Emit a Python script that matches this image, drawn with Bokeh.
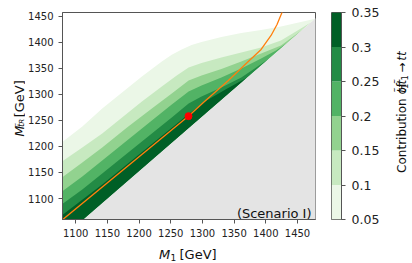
import math
from bokeh.plotting import figure
from bokeh.models import ColumnDataSource, Label, FixedTicker, CustomJSTickFormatter
from bokeh.layouts import row, column
from bokeh.core.properties import value
from bokeh.embed import file_html
from bokeh.resources import INLINE

# ---------------- data ----------------
levels = [0.05, 0.10, 0.15, 0.20, 0.25, 0.30, 0.35]
level_labels = ["0.05", "0.1", "0.15", "0.2", "0.25", "0.3", "0.35"]
band_colors = ["#ebf7e7", "#c7e9c0", "#92d28f", "#52b365", "#238b45", "#005f26"]

x_ticks = [1100, 1150, 1200, 1250, 1300, 1350, 1400, 1450]
y_ticks = [1100, 1150, 1200, 1250, 1300, 1350, 1400, 1450]
x_lo, x_hi = 1079.2, 1478.4
y_lo, y_hi = 1059.7, 1457.0

# contour lines (upper edge of each filled level), M1 vs M_tR in GeV
c005_x = [1076, 1110.5, 1141.9, 1173.2, 1204.5, 1235.9, 1251.6, 1267.3, 1282.9, 1298.6, 1314.3, 1329.9, 1361.3, 1392.6, 1423.9, 1455.3, 1477.7]
c005_y = [1205.6, 1238.2, 1272.7, 1303.5, 1334.2, 1362.8, 1375.7, 1386.2, 1394.5, 1400.2, 1405.0, 1409.9, 1417.6, 1423.4, 1430.1, 1438.8, 1444.9]
c010_x = [1076, 1110.5, 1141.9, 1173.2, 1204.5, 1235.9, 1259.4, 1278.2, 1298.6, 1329.9, 1361.3, 1392.6, 1423.9, 1447.5, 1471.0]
c010_y = [1169.1, 1197.9, 1224.8, 1255.5, 1286.2, 1315.0, 1336.1, 1351.4, 1360.1, 1370.6, 1380.2, 1389.8, 1403.2, 1420.5, 1437.8]
c015_x = [1076, 1110.5, 1141.9, 1181.0, 1220.2, 1251.6, 1278.2, 1298.6, 1329.9, 1361.3, 1392.6, 1423.9, 1458.5]
c015_y = [1138.4, 1169.1, 1197.9, 1236.3, 1272.7, 1301.5, 1326.5, 1336.1, 1348.6, 1363.0, 1378.3, 1393.7, 1424.6]
c020_x = [1076, 1110.5, 1141.9, 1181.0, 1220.2, 1251.6, 1278.2, 1298.6, 1329.9, 1361.3, 1392.6, 1416.1, 1433.4]
c020_y = [1111.5, 1142.2, 1172.9, 1211.3, 1249.7, 1280.4, 1305.4, 1316.9, 1332.2, 1349.5, 1368.7, 1384.1, 1398.3]
c025_x = [1076, 1110.5, 1141.9, 1181.0, 1220.2, 1251.6, 1278.2, 1298.6, 1329.9, 1361.3, 1384.8, 1405.2]
c025_y = [1086.6, 1117.3, 1148.0, 1186.4, 1224.8, 1255.5, 1282.3, 1295.8, 1313.1, 1332.2, 1351.4, 1368.5]
c030_x = [1076, 1141.9, 1220.2, 1278.2, 1306.4, 1337.8, 1370.7]
c030_y = [1065.5, 1126.9, 1204.6, 1262.2, 1288.1, 1310.2, 1332.2]

# boundary of the excluded (grey) region
gray_x = [1103, 1480]
gray_y = [1050, 1447.3]

# orange curve and benchmark point
orange_x = [1070, 1278.2, 1303.3, 1340.9, 1370.7, 1392.6, 1408.3, 1417.7, 1421.6, 1425.5, 1426.5]
orange_y = [1050, 1258.4, 1286.2, 1326.5, 1361.0, 1386.0, 1412.9, 1434.0, 1445.5, 1457.0, 1465.0]
dot_x = [1278]
dot_y = [1258]

# ---------------- styling helpers ----------------
FONT = "DejaVu Sans"
EDGE = "#555555"
TXT = "#111111"
A = math.pi / 2


def text_fig(w, h):
    f = figure(width=w, height=h, x_range=(0, w), y_range=(0, h), output_backend="svg",
               toolbar_location=None, min_border=0, x_axis_location=None, y_axis_location=None)
    f.outline_line_color = None
    f.grid.visible = False
    return f


def txt(f, x, y, s, size, style="normal", angle=0.0):
    f.text(x=[x], y=[y], text=[s], angle=angle, text_align="left", text_baseline="alphabetic",
           text_font=value(FONT), text_font_size=value(f"{size}px"),
           text_font_style=value(style), text_color=TXT)


# ---------------- main plot ----------------
p = figure(width=298, height=243, x_range=(x_lo, x_hi), y_range=(y_lo, y_hi),
           output_backend="svg", toolbar_location=None,
           min_border_left=35, min_border_right=8, min_border_top=12, min_border_bottom=24)
p.grid.visible = False
p.outline_line_color = EDGE
p.outline_line_width = 1
p.xaxis.ticker = FixedTicker(ticks=x_ticks)
p.yaxis.ticker = FixedTicker(ticks=y_ticks)
for ax in (p.xaxis[0], p.yaxis[0]):
    ax.major_tick_in = 0
    ax.major_tick_out = 4
    ax.minor_tick_line_color = None
    ax.axis_line_color = EDGE
    ax.major_tick_line_color = EDGE
    ax.major_label_text_font = FONT
    ax.major_label_text_font_size = "10px"
    ax.major_label_text_color = "#222222"
p.yaxis.major_label_standoff = 5
p.xaxis.major_label_standoff = 5

contours = [(c005_x, c005_y), (c010_x, c010_y), (c015_x, c015_y),
            (c020_x, c020_y), (c025_x, c025_y), (c030_x, c030_y)]
xs, ys = [], []
for cx, cy in contours:
    xs.append(list(cx) + [gray_x[0], cx[0]])
    ys.append(list(cy) + [gray_y[0], gray_y[0]])
src = ColumnDataSource(dict(xs=xs, ys=ys, color=band_colors))
p.patches("xs", "ys", source=src, fill_color="color", line_color=None)

p.patch(gray_x + [gray_x[-1]], gray_y + [gray_y[0]], fill_color="#e4e4e4", line_color=None)

p.line(orange_x, orange_y, line_color="#ff7f0e", line_width=1.3)
p.scatter(dot_x, dot_y, size=7, fill_color="#ff0000", line_color="#ff0000")

p.add_layout(Label(x=x_hi, y=y_lo, x_offset=-4, y_offset=6, text="(Scenario I)",
                   text_font=FONT, text_font_size="13px", text_align="right",
                   text_baseline="alphabetic", text_color=TXT))

# ---------------- colour bar ----------------
cb = figure(width=59, height=243, x_range=(0, 1), y_range=(levels[0], levels[-1]),
            output_backend="svg", toolbar_location=None,
            x_axis_location=None, y_axis_location="right",
            min_border_left=8, min_border_right=40, min_border_top=12, min_border_bottom=24)
cb.grid.visible = False
cb.outline_line_color = EDGE
cb.quad(left=0, right=1, bottom=levels[:-1], top=levels[1:], fill_color=band_colors, line_color=None)
ya = cb.yaxis[0]
ya.ticker = FixedTicker(ticks=levels)
ya.formatter = CustomJSTickFormatter(args=dict(labels=level_labels), code="return labels[index];")
ya.major_tick_in = 0
ya.major_tick_out = 4
ya.minor_tick_line_color = None
ya.axis_line_color = EDGE
ya.major_tick_line_color = EDGE
ya.major_label_text_font = FONT
ya.major_label_text_font_size = "12.5px"
ya.major_label_text_color = "#222222"
ya.major_label_standoff = 6

# ---------------- axis titles ----------------
ylab = text_fig(25, 243)
txt(ylab, 18.5, 97.5, "M", 12.5, "italic", A)
txt(ylab, 20.5, 108.5, "t\u0303", 9, "italic", A)
txt(ylab, 21, 112.3, "R", 7, "italic", A)
txt(ylab, 18.5, 120, "[GeV]", 13, "normal", A)

cblab = text_fig(30, 243)
txt(cblab, 19, 54.7, "Contribution of", 12, "normal", A)
txt(cblab, 19, 148.4, "t\u0303", 12, "italic", A)
txt(cblab, 22, 153.1, "1", 8.4, "normal", A)
txt(cblab, 19, 158.4, "t\u0303", 12, "italic", A)
txt(cblab, 22, 163.1, "1", 8.4, "normal", A)
txt(cblab, 19, 172.4, "\u2192", 12, "normal", A)
txt(cblab, 19, 186.5, "tt", 12, "italic", A)

xlab = text_fig(412, 20)
txt(xlab, 158.5, 9.5, "M", 13, "italic")
txt(xlab, 170, 6.5, "1", 9)
txt(xlab, 179, 9.5, "[GeV]", 13)

layout = column(row(ylab, p, cb, cblab), xlab)
open("out.html", "w").write(file_html(layout, INLINE))
